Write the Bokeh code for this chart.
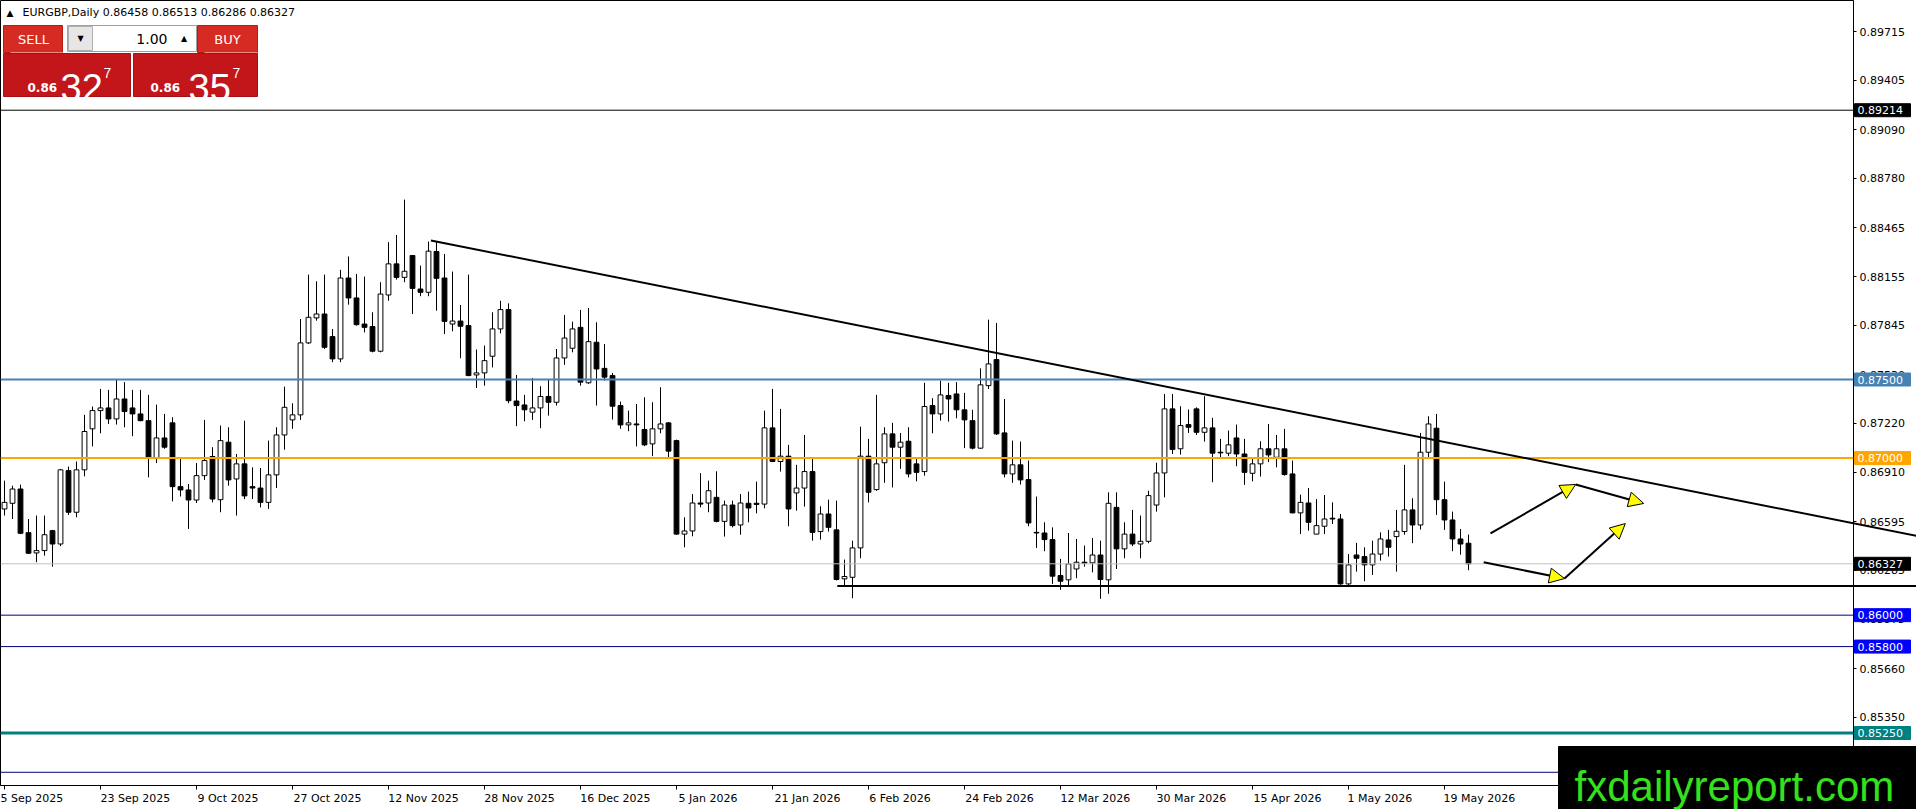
from bokeh.plotting import figure
from bokeh.models import (Range1d, FixedTicker, PrintfTickFormatter, Arrow,
                          NormalHead, ColumnDataSource, Span)
from bokeh.embed import file_html
from bokeh.resources import INLINE
from bokeh.core.properties import value

# ---------------- data (EURGBP daily) ----------------
bar_index = list(range(184))

opens = [0.86676, 0.86712, 0.86803, 0.86525, 0.86396, 0.86411, 0.86538, 0.86453, 0.86920, 0.86655,
         0.86925, 0.87186, 0.87302, 0.87319, 0.87249, 0.87376, 0.87319, 0.87281, 0.87238, 0.87001,
         0.87128, 0.87224, 0.86818, 0.86797, 0.86733, 0.86888, 0.87010, 0.86735, 0.87101, 0.86867,
         0.86963, 0.86818, 0.86809, 0.86718, 0.86893, 0.87147, 0.87243, 0.87275, 0.87733, 0.87892,
         0.87917, 0.87773, 0.87631, 0.88146, 0.88019, 0.87853, 0.87837, 0.87680, 0.88038, 0.88236,
         0.88150, 0.88289, 0.88076, 0.88055, 0.88315, 0.88146, 0.87853, 0.87872, 0.87843, 0.87529,
         0.87542, 0.87648, 0.87822, 0.87945, 0.87363, 0.87338, 0.87292, 0.87319, 0.87392, 0.87355,
         0.87637, 0.87699, 0.87832, 0.87479, 0.87737, 0.87571, 0.87525, 0.87334, 0.87211, 0.87217,
         0.87182, 0.87090, 0.87186, 0.87224, 0.87111, 0.86516, 0.86536, 0.86714, 0.86714, 0.86750,
         0.86597, 0.86701, 0.86574, 0.86712, 0.86712, 0.86707, 0.87192, 0.86978, 0.87012, 0.86778,
         0.86809, 0.86914, 0.86532, 0.86644, 0.86543, 0.86231, 0.86241, 0.86428, 0.87012, 0.86799,
         0.86970, 0.87154, 0.87069, 0.87107, 0.86963, 0.86914, 0.87334, 0.87281, 0.87398, 0.87408,
         0.87307, 0.87238, 0.87063, 0.87461, 0.87627, 0.87160, 0.86899, 0.86957, 0.86863, 0.86527,
         0.86523, 0.86481, 0.86252, 0.86225, 0.86294, 0.86337, 0.86333, 0.86383, 0.86225, 0.86686,
         0.86422, 0.86516, 0.86453, 0.86470, 0.86701, 0.86905, 0.87313, 0.87059, 0.87213, 0.87313,
         0.87164, 0.87192, 0.87037, 0.87031, 0.87128, 0.87026, 0.86903, 0.86963, 0.87059, 0.87005,
         0.87059, 0.86899, 0.86651, 0.86714, 0.86516, 0.86566, 0.86617, 0.86612, 0.86199, 0.86383,
         0.86373, 0.86320, 0.86389, 0.86479, 0.86500, 0.86532, 0.86670, 0.86574, 0.87037, 0.87190,
         0.86735, 0.86606, 0.86485, 0.86458]

highs = [0.86856, 0.86824, 0.86831, 0.86612, 0.86634, 0.86634, 0.86543, 0.86931, 0.86946, 0.86978,
         0.87275, 0.87328, 0.87440, 0.87434, 0.87498, 0.87483, 0.87434, 0.87434, 0.87402, 0.87340,
         0.87281, 0.87260, 0.87005, 0.86835, 0.86968, 0.87243, 0.87069, 0.87207, 0.87196, 0.87026,
         0.87238, 0.86941, 0.86937, 0.87111, 0.87196, 0.87455, 0.87349, 0.87885, 0.88168, 0.88125,
         0.88168, 0.87822, 0.88198, 0.88283, 0.88172, 0.88155, 0.87928, 0.88119, 0.88374, 0.88420,
         0.88645, 0.88289, 0.88225, 0.88378, 0.88374, 0.88299, 0.88187, 0.87974, 0.88168, 0.87691,
         0.87716, 0.87928, 0.88001, 0.87985, 0.87529, 0.87402, 0.87510, 0.87457, 0.87498, 0.87694,
         0.87911, 0.87868, 0.87943, 0.87955, 0.87864, 0.87726, 0.87542, 0.87359, 0.87302, 0.87344,
         0.87387, 0.87355, 0.87451, 0.87228, 0.87117, 0.86623, 0.86771, 0.86904, 0.86856, 0.86916,
         0.86729, 0.86729, 0.86771, 0.86786, 0.86850, 0.87302, 0.87440, 0.87313, 0.87084, 0.86957,
         0.87147, 0.86995, 0.86693, 0.86735, 0.86729, 0.86354, 0.86474, 0.87200, 0.87122, 0.87402,
         0.87196, 0.87224, 0.87160, 0.87196, 0.86995, 0.87479, 0.87381, 0.87493, 0.87479, 0.87483,
         0.87415, 0.87307, 0.87571, 0.87881, 0.87860, 0.87376, 0.87111, 0.87105, 0.86984, 0.86755,
         0.86591, 0.86559, 0.86358, 0.86523, 0.86485, 0.86443, 0.86491, 0.86474, 0.86782, 0.86782,
         0.86591, 0.86670, 0.86634, 0.86792, 0.86970, 0.87408, 0.87408, 0.87330, 0.87309, 0.87323,
         0.87394, 0.87256, 0.87122, 0.87175, 0.87213, 0.87122, 0.86999, 0.87107, 0.87217, 0.87147,
         0.87186, 0.86984, 0.86767, 0.86809, 0.86739, 0.86765, 0.86718, 0.86644, 0.86389, 0.86460,
         0.86432, 0.86474, 0.86527, 0.86543, 0.86670, 0.86957, 0.86744, 0.87160, 0.87266, 0.87281,
         0.86850, 0.86659, 0.86549, 0.86513]

lows = [0.86634, 0.86612, 0.86516, 0.86389, 0.86337, 0.86379, 0.86309, 0.86439, 0.86638, 0.86623,
        0.86884, 0.87074, 0.87158, 0.87217, 0.87213, 0.87196, 0.87139, 0.87234, 0.86877, 0.86968,
        0.87059, 0.86724, 0.86755, 0.86549, 0.86714, 0.86861, 0.86718, 0.86655, 0.86824, 0.86634,
        0.86739, 0.86739, 0.86686, 0.86676, 0.86809, 0.87053, 0.87186, 0.87243, 0.87726, 0.87874,
        0.87694, 0.87610, 0.87610, 0.87976, 0.87843, 0.87800, 0.87673, 0.87673, 0.88001, 0.88136,
        0.88119, 0.87917, 0.88030, 0.88030, 0.87938, 0.87789, 0.87807, 0.87635, 0.87521, 0.87446,
        0.87461, 0.87577, 0.87794, 0.87349, 0.87203, 0.87234, 0.87243, 0.87190, 0.87270, 0.87334,
        0.87593, 0.87673, 0.87461, 0.87472, 0.87334, 0.87493, 0.87245, 0.87186, 0.87171, 0.87074,
        0.87076, 0.87012, 0.87158, 0.87005, 0.86512, 0.86432, 0.86502, 0.86686, 0.86655, 0.86591,
        0.86500, 0.86559, 0.86512, 0.86591, 0.86648, 0.86680, 0.86974, 0.86914, 0.86566, 0.86665,
        0.86691, 0.86474, 0.86481, 0.86532, 0.86221, 0.86184, 0.86108, 0.86362, 0.86718, 0.86792,
        0.86842, 0.86813, 0.86931, 0.86877, 0.86852, 0.86888, 0.87158, 0.87238, 0.87232, 0.87253,
        0.87063, 0.87055, 0.87059, 0.87440, 0.87147, 0.86877, 0.86842, 0.86831, 0.86566, 0.86428,
        0.86407, 0.86199, 0.86161, 0.86184, 0.86235, 0.86309, 0.86273, 0.86104, 0.86136, 0.86294,
        0.86362, 0.86439, 0.86362, 0.86458, 0.86659, 0.86750, 0.87026, 0.87022, 0.87160, 0.87147,
        0.87105, 0.86846, 0.86999, 0.87012, 0.86948, 0.86829, 0.86852, 0.86882, 0.86974, 0.86941,
        0.86888, 0.86648, 0.86516, 0.86538, 0.86516, 0.86516, 0.86580, 0.86193, 0.86184, 0.86277,
        0.86216, 0.86256, 0.86347, 0.86373, 0.86277, 0.86512, 0.86458, 0.86545, 0.87005, 0.86638,
        0.86543, 0.86407, 0.86385, 0.86286]

closes = [0.86718, 0.86803, 0.86521, 0.86394, 0.86411, 0.86512, 0.86453, 0.86925, 0.86655, 0.86925,
          0.87169, 0.87302, 0.87319, 0.87249, 0.87376, 0.87296, 0.87281, 0.87238, 0.87001, 0.87128,
          0.87069, 0.86818, 0.86797, 0.86733, 0.86888, 0.86984, 0.86739, 0.87111, 0.86861, 0.86963,
          0.86759, 0.86809, 0.86718, 0.86893, 0.87147, 0.87323, 0.87275, 0.87733, 0.87896, 0.87917,
          0.87705, 0.87631, 0.88146, 0.88019, 0.87849, 0.87832, 0.87680, 0.88044, 0.88236, 0.88150,
          0.88189, 0.88080, 0.88055, 0.88317, 0.88144, 0.87870, 0.87872, 0.87839, 0.87525, 0.87542,
          0.87620, 0.87822, 0.87945, 0.87365, 0.87334, 0.87307, 0.87319, 0.87392, 0.87355, 0.87637,
          0.87764, 0.87822, 0.87483, 0.87741, 0.87567, 0.87515, 0.87330, 0.87211, 0.87224, 0.87211,
          0.87084, 0.87186, 0.87217, 0.87044, 0.86516, 0.86536, 0.86714, 0.86707, 0.86792, 0.86597,
          0.86701, 0.86570, 0.86714, 0.86682, 0.86705, 0.87192, 0.86978, 0.87012, 0.86676, 0.86809,
          0.86914, 0.86527, 0.86644, 0.86559, 0.86227, 0.86246, 0.86428, 0.87012, 0.86782, 0.86963,
          0.87154, 0.87069, 0.87101, 0.86899, 0.86909, 0.87328, 0.87281, 0.87402, 0.87376, 0.87307,
          0.87243, 0.87063, 0.87466, 0.87599, 0.87154, 0.86899, 0.86957, 0.86861, 0.86587, 0.86523,
          0.86481, 0.86248, 0.86216, 0.86326, 0.86337, 0.86331, 0.86383, 0.86227, 0.86712, 0.86422,
          0.86516, 0.86453, 0.86470, 0.86761, 0.86905, 0.87313, 0.87055, 0.87207, 0.87196, 0.87164,
          0.87192, 0.87031, 0.87033, 0.87084, 0.87026, 0.86909, 0.86963, 0.87059, 0.87020, 0.87059,
          0.86895, 0.86651, 0.86718, 0.86591, 0.86570, 0.86612, 0.86612, 0.86199, 0.86320, 0.86362,
          0.86320, 0.86389, 0.86485, 0.86432, 0.86534, 0.86670, 0.86574, 0.87037, 0.87217, 0.86735,
          0.86606, 0.86485, 0.86453, 0.86327]

date_tick_bars = [0, 12, 24, 36, 48, 60, 72, 84, 96, 108, 120, 132, 144, 156, 168, 180]
date_tick_labels = ["5 Sep 2025", "23 Sep 2025", "9 Oct 2025", "27 Oct 2025", "12 Nov 2025",
                    "28 Nov 2025", "16 Dec 2025", "5 Jan 2026", "21 Jan 2026", "6 Feb 2026",
                    "24 Feb 2026", "12 Mar 2026", "30 Mar 2026", "15 Apr 2026", "1 May 2026",
                    "19 May 2026"]

price_ticks = [0.89715, 0.89405, 0.89090, 0.88780, 0.88465, 0.88155, 0.87845, 0.87530, 0.87220,
               0.86910, 0.86595, 0.86285, 0.85975, 0.85660, 0.85350, 0.85040]

level_prices = [0.89214, 0.87500, 0.87000, 0.86000, 0.85800, 0.85250, 0.85000]
level_colors = ["black", "#4682B4", "#FFA500", "#000080", "#000080", "#008080", "#000080"]
level_widths = [1, 2, 2, 1, 1, 3, 1]
level_tags = ["black", "#4682B4", "#FFA500", "#0000FF", "#0000FF", "#008080", None]

current_price = 0.86327
header_values = ["0.86458", "0.86513", "0.86286", "0.86327"]

trend_x = [53.3, 191.0]
trend_y = [0.88385, 0.86991]
support_x0 = 104.1
support_y = 0.86186

arrow_x0 = [184.9, 195.0, 185.75, 196.4]
arrow_y0 = [0.86337, 0.86233, 0.86520, 0.86832]
arrow_x1 = [195.0, 202.6, 196.4, 204.9]
arrow_y1 = [0.86233, 0.86583, 0.86832, 0.86711]

# ---------------- layout helpers (page pixel -> data) ----------------
BAR_PX = 8.0
X0_PX = 4.0
PRICE_REF = 0.875
Y_REF_PX = 379.0
PRICE_PER_PX = 6.365e-5
FRAME_W = 1853
FRAME_H = 785
PAGE_W = 1916
PAGE_H = 809


def dx(px):
    return (px - X0_PX) / BAR_PX


def dy(py):
    return PRICE_REF - (py - Y_REF_PX) * PRICE_PER_PX


FONT = "DejaVu Sans"
NBSP = "\u00a0"

p = figure(frame_width=FRAME_W, frame_height=FRAME_H,
           x_range=Range1d(dx(0), dx(FRAME_W)), y_range=Range1d(dy(FRAME_H), dy(0)),
           y_axis_location="right", output_backend="svg", toolbar_location=None,
           min_border_left=0, min_border_top=0, min_border_right=PAGE_W - FRAME_W,
           min_border_bottom=PAGE_H - FRAME_H)
p.background_fill_color = "white"
p.border_fill_color = "white"
p.outline_line_color = "black"
p.outline_line_width = 1
p.grid.visible = False

# axes
p.yaxis.ticker = FixedTicker(ticks=price_ticks)
p.yaxis.formatter = PrintfTickFormatter(format="%.5f")
p.yaxis.major_tick_out = 3
p.yaxis.major_tick_in = 0
p.yaxis.minor_tick_line_color = None
p.yaxis.major_label_standoff = 3
p.yaxis.major_label_text_font = FONT
p.yaxis.major_label_text_font_size = "11px"
p.yaxis.major_label_text_color = "black"
p.yaxis.axis_line_color = "black"

# MT4 writes date labels starting at the tick: pad each centred label on the left
# (the first one sits at the very edge and is pushed inside by the axis itself)
p.xaxis.ticker = FixedTicker(ticks=date_tick_bars)
p.xaxis.major_label_overrides = {b: (NBSP * round(len(t) * 1.8) if i > 0 else "") + t
                                 for i, (b, t) in enumerate(zip(date_tick_bars, date_tick_labels))}
p.xaxis.major_tick_out = 4
p.xaxis.major_tick_in = 0
p.xaxis.minor_tick_line_color = None
p.xaxis.major_label_standoff = 2
p.xaxis.major_label_text_font = FONT
p.xaxis.major_label_text_font_size = "11px"
p.xaxis.major_label_text_color = "black"
p.xaxis.axis_line_color = "black"

# candles
tops = [max(o, c) for o, c in zip(opens, closes)]
bottoms = [min(o, c) for o, c in zip(opens, closes)]
fills = ["white" if c > o else "black" for o, c in zip(opens, closes)]
src = ColumnDataSource(dict(x=bar_index, high=highs, low=lows, top=tops, bottom=bottoms, fill=fills))
p.segment(x0="x", y0="low", x1="x", y1="high", source=src, line_color="black", line_width=1)
p.vbar(x="x", width=0.6, top="top", bottom="bottom", source=src,
       fill_color="fill", line_color="black", line_width=1)

# horizontal levels
p.add_layout(Span(location=current_price, dimension="width", line_color="#C0C0C0", line_width=1))
for lv, col, w in zip(level_prices, level_colors, level_widths):
    p.add_layout(Span(location=lv, dimension="width", line_color=col, line_width=w))

# trend line & support: rays that run on across the price scale (overlay level is not clipped)
slope = (trend_y[1] - trend_y[0]) / (trend_x[1] - trend_x[0])
ray_end = dx(PAGE_W)
p.line(x=[trend_x[0], ray_end], y=[trend_y[0], trend_y[0] + slope * (ray_end - trend_x[0])],
       line_color="black", line_width=2, level="overlay")
p.line(x=[support_x0, ray_end], y=[support_y, support_y], line_color="black", line_width=2,
       level="overlay")

# projection arrows
for xa, ya, xb, yb in zip(arrow_x0, arrow_y0, arrow_x1, arrow_y1):
    p.add_layout(Arrow(end=NormalHead(size=15, fill_color="#FFFF00", line_color="black", line_width=1),
                       x_start=xa, y_start=ya, x_end=xb, y_end=yb,
                       line_color="black", line_width=2))

# price tags on the scale
tag_prices = [lv for lv, t in zip(level_prices, level_tags) if t is not None] + [current_price]
tag_fills = [t for t in level_tags if t is not None] + ["black"]
half_h = 6.5 * PRICE_PER_PX
p.quad(left=[dx(1854)] * len(tag_prices), right=[dx(1910)] * len(tag_prices),
       top=[v + half_h for v in tag_prices], bottom=[v - half_h for v in tag_prices],
       fill_color=tag_fills, line_color=tag_fills, level="overlay")
p.text(x=[dx(1857)] * len(tag_prices), y=tag_prices, text=["%.5f" % v for v in tag_prices],
       text_font=value(FONT), text_font_size="11px", text_baseline="middle",
       text_color="white", level="overlay")

# header line
p.text(x=[dx(6)], y=[dy(12)], text=["\u25b2"], text_font=value(FONT), text_font_size="9px",
       text_baseline="middle", text_color="black")
p.text(x=[dx(22)], y=[dy(12)], text=["EURGBP,Daily  " + " ".join(header_values)],
       text_font=value(FONT), text_font_size="11px", text_baseline="middle", text_color="black")

# one-click trading panel
p.quad(left=[dx(3), dx(197)], right=[dx(62), dx(257)], top=[dy(25), dy(25)], bottom=[dy(52), dy(52)],
       fill_color="#d52b22", line_color="#b81a14", line_width=1)
p.quad(left=[dx(3), dx(133)], right=[dx(130), dx(257)], top=[dy(53), dy(53)], bottom=[dy(96), dy(96)],
       fill_color="#c3161b", line_color="#a81015", line_width=1)
p.quad(left=[dx(67)], right=[dx(196)], top=[dy(25)], bottom=[dy(51)],
       fill_color="white", line_color="#a0a0a0", line_width=1)
p.quad(left=[dx(68), dx(172)], right=[dx(92), dx(195)], top=[dy(26)], bottom=[dy(50)],
       fill_color="#e6e6e6", line_color="#b0b0b0", line_width=1)
p.segment(x0=[dx(10), dx(204)], y0=[dy(52), dy(52)], x1=[dx(62), dx(257)], y1=[dy(52), dy(52)],
          line_color="#f08a80", line_width=1)
p.text(x=[dx(80), dx(183.5)], y=[dy(38), dy(38)], text=["\u25bc", "\u25b2"], text_font=value(FONT),
       text_font_size="8px", text_align="center", text_baseline="middle", text_color="black")
p.text(x=[dx(167)], y=[dy(38)], text=["1.00"], text_font=value(FONT), text_font_size="14px",
       text_align="right", text_baseline="middle", text_color="black")
p.text(x=[dx(33), dx(227)], y=[dy(39), dy(39)], text=["SELL", "BUY"], text_font=value(FONT),
       text_font_size="13px", text_align="center", text_baseline="middle", text_color="white")
p.text(x=[dx(27), dx(150)], y=[dy(87), dy(87)], text=["0.86", "0.86"], text_font=value(FONT),
       text_font_size="12px", text_font_style="bold", text_baseline="alphabetic", text_color="white")
p.text(x=[dx(60), dx(188)], y=[dy(87), dy(87)], text=["32", "35"], text_font=value("Liberation Sans"),
       text_font_size="38px", text_baseline="alphabetic", text_color="white")
p.text(x=[dx(103), dx(232)], y=[dy(72), dy(72)], text=["7", "7"], text_font=value("Liberation Sans"),
       text_font_size="14px", text_baseline="alphabetic", text_color="white")

# watermark (covers the lower right corner, scale included)
p.quad(left=[dx(1558)], right=[dx(PAGE_W)], top=[dy(746)], bottom=[dy(PAGE_H)],
       fill_color="black", line_color="black", level="overlay")
p.text(x=[dx(1574)], y=[dy(786)], text=["fxdailyreport.com"], text_font=value("Liberation Sans"),
       text_font_size="42px", text_baseline="alphabetic", text_color="#35e01c", level="overlay")

open("out.html", "w").write(file_html(p, INLINE))
